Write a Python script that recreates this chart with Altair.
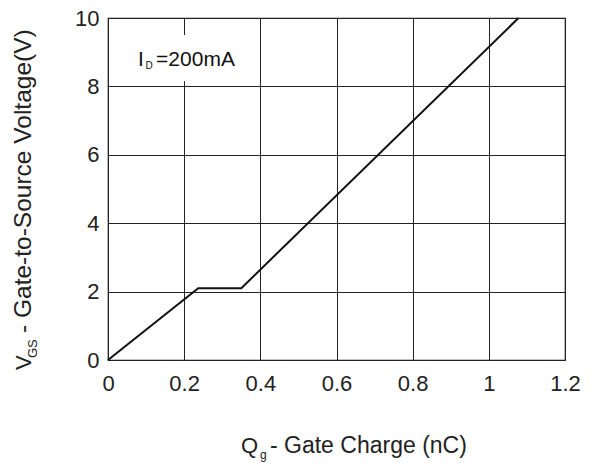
import altair as alt
import pandas as pd

# Data
qg = [0.0, 0.237, 0.350, 1.078]
vgs = [0.0, 2.10, 2.10, 10.0]

x_ticks = [0, 0.2, 0.4, 0.6, 0.8, 1.0, 1.2]
y_ticks = [0, 2, 4, 6, 8, 10]

# annotation box (data coords) and label anchor
box_x = [0.06]
box_x2 = [0.36]
box_y = [8.15]
box_y2 = [9.5]
ann_x = [0.079]
ann_y = [8.76]

FONT = "Liberation Sans"
W, H = 457, 342

df = pd.DataFrame({"q": qg, "v": vgs})
xs = alt.Scale(domain=[0, 1.2], nice=False)
ys = alt.Scale(domain=[0, 10], nice=False)

base_x = alt.X("q:Q", scale=xs, axis=alt.Axis(values=x_ticks, format="~g", title=None,
                                               grid=True, gridColor="#222", gridWidth=1,
                                               ticks=False, domain=False, labelFont=FONT,
                                               labelFontSize=22, labelColor="#222",
                                               labelPadding=13, labelFlush=False))
base_y = alt.Y("v:Q", scale=ys, axis=alt.Axis(values=y_ticks, title=None,
                                               grid=True, gridColor="#222", gridWidth=1,
                                               ticks=False, domain=False, labelFont=FONT,
                                               labelFontSize=22, labelColor="#222",
                                               labelPadding=9, labelFlush=False))

line = alt.Chart(df).mark_line(color="#111", strokeWidth=2).encode(x=base_x, y=base_y)

bdf = pd.DataFrame({"x": box_x, "x2": box_x2, "y": box_y, "y2": box_y2})
box = alt.Chart(bdf).mark_rect(fill="white").encode(
    x=alt.X("x:Q", scale=xs), x2="x2", y=alt.Y("y:Q", scale=ys), y2="y2")

adf = pd.DataFrame({"x": ann_x, "y": ann_y})
def ann(text, size, dx, dy):
    return alt.Chart(adf).mark_text(text=text, font=FONT, fontSize=size, align="left",
                                    baseline="middle", dx=dx, dy=dy, color="#111").encode(
        x=alt.X("x:Q", scale=xs), y=alt.Y("y:Q", scale=ys))

ann_I = ann("I", 21, 0, 0)
ann_D = ann("D", 10, 7.5, 6)
ann_rest = ann("=200mA", 21, 18, 0)

def label(text, size, x, y, angle=0, align="left"):
    d = {"text": text, "font": FONT, "fontSize": size, "align": align,
         "baseline": "middle", "color": "#222"}
    if angle:
        d["angle"] = angle
    return alt.Chart(adf).mark_text(**d).encode(x=alt.value(x), y=alt.value(y))

# x title
xt_Q = label("Q", 22, 133, 428)
xt_g = label("g", 12, 152, 437)
xt_rest = label("- Gate Charge (nC)", 23, 162, 428)

# y title (rotated)
yt_V = label("V", 22, -84, 352, angle=270)
yt_GS = label("GS", 13, -75, 340, angle=270)
yt_rest = label("- Gate-to-Source Voltage(V)", 24.5, -84, 315, angle=270)

chart = alt.layer(line, box, ann_I, ann_D, ann_rest, xt_Q, xt_g, xt_rest,
                  yt_V, yt_GS, yt_rest).properties(
    width=W, height=H,
    autosize=alt.AutoSizeParams(type="none"),
    padding={"left": 108, "top": 18, "right": 28, "bottom": 103},
).configure_view(stroke="#111", strokeWidth=1.2)

chart.save("out.html", embed_options={"renderer": "svg", "actions": False})
